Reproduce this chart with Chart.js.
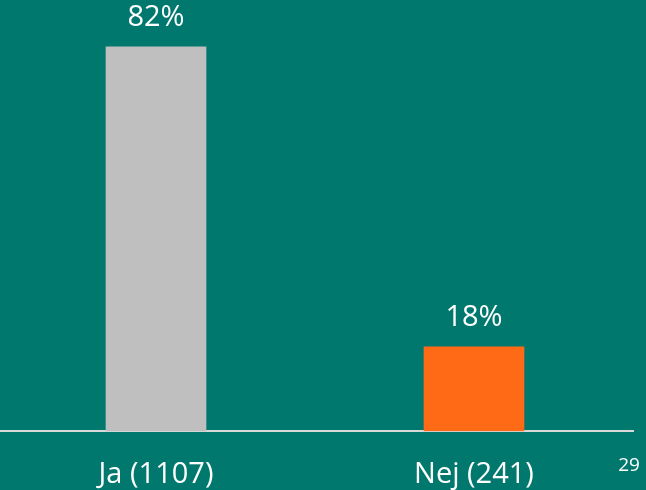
<!DOCTYPE html>
<html>
<head>
<meta charset="utf-8">
<script src="https://cdn.jsdelivr.net/npm/chart.js@4/dist/chart.umd.min.js"></script>
<style>
  html, body { margin: 0; padding: 0; background: #00786E; overflow: hidden; }
  #wrap { width: 650px; height: 490px; position: relative; left: -3px; }
</style>
</head>
<body>
<div id="wrap"><canvas id="chart"></canvas></div>
<script>
const categories = ["Ja (1107)", "Nej (241)"];
const values = [82, 18];
const barColors = ["#BFBFBF", "#FF6A17"];
const slideNumber = "29";

const fontFamily = "'Open Sans', 'Noto Sans', sans-serif";

// percent labels above each bar + slide number in the corner
const labelsPlugin = {
  id: "labels",
  afterDatasetsDraw(chart) {
    const ctx = chart.ctx;
    const meta = chart.getDatasetMeta(0);
    ctx.save();
    ctx.fillStyle = "#FFFFFF";
    ctx.font = "29px " + fontFamily;
    ctx.textAlign = "center";
    ctx.textBaseline = "middle";
    meta.data.forEach((bar, i) => {
      ctx.fillText(values[i] + "%", bar.x, bar.y - 29);
    });
    ctx.font = "19px " + fontFamily;
    ctx.fillText(slideNumber, 632, 466);
    ctx.restore();
  }
};

new Chart(document.getElementById("chart"), {
  type: "bar",
  data: {
    labels: categories,
    datasets: [{
      data: values,
      backgroundColor: barColors,
      barThickness: 100
    }]
  },
  options: {
    responsive: true,
    maintainAspectRatio: false,
    animation: false,
    layout: { padding: { left: 0, right: 14, top: 0, bottom: -20 } },
    plugins: { legend: { display: false }, tooltip: { enabled: false } },
    scales: {
      x: {
        grid: { display: false },
        border: { display: true, color: "#D9D9D9", width: 2 },
        ticks: {
          color: "#FFFFFF",
          font: { family: fontFamily, size: 29 },
          padding: 18
        }
      },
      y: {
        display: false,
        min: 0,
        max: 92
      }
    }
  },
  plugins: [labelsPlugin]
});
</script>
</body>
</html>
